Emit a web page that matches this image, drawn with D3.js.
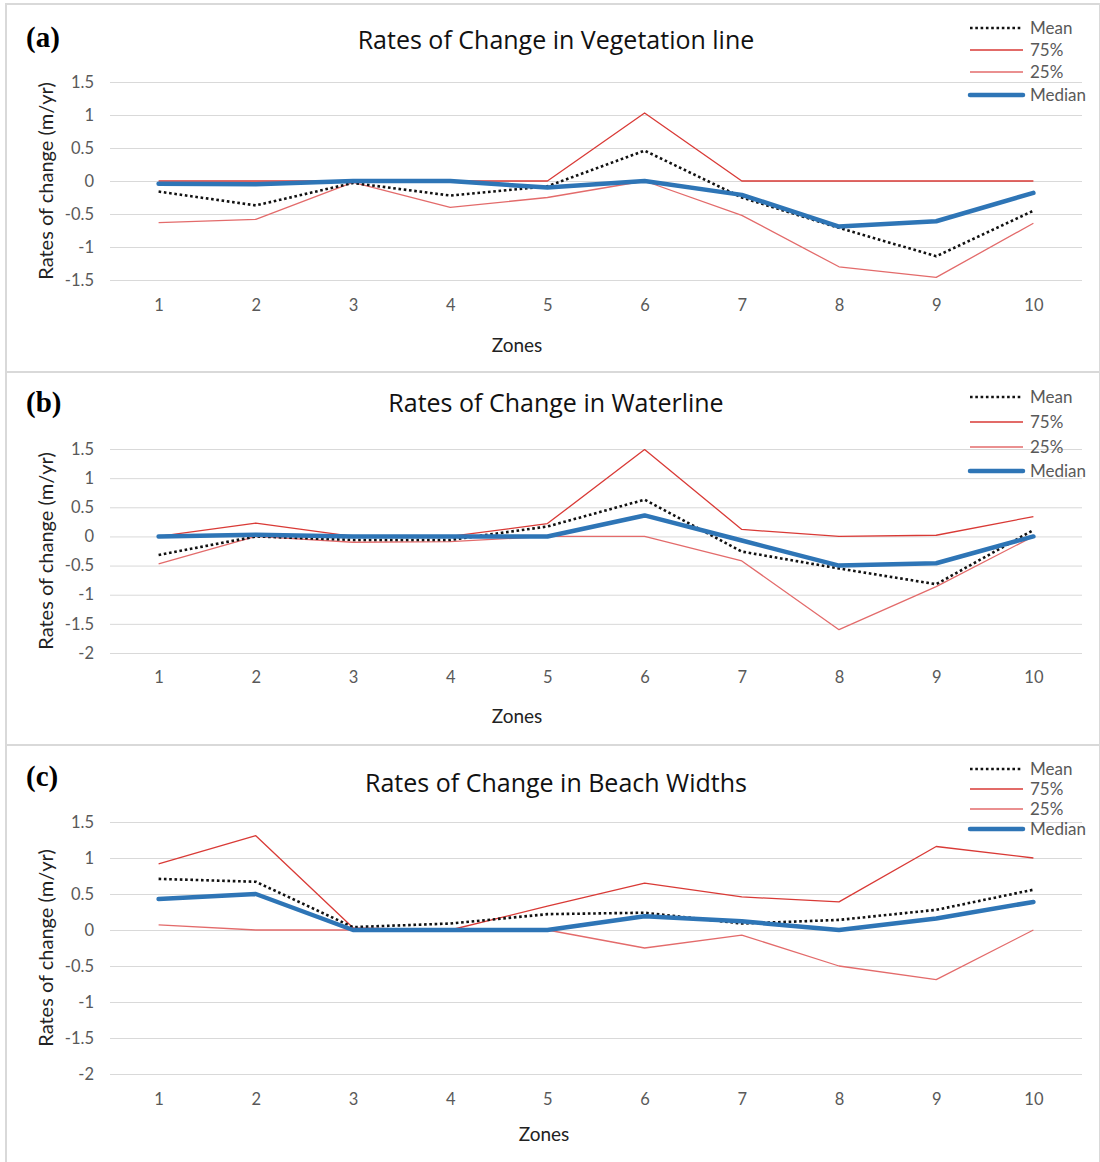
<!DOCTYPE html>
<html>
<head>
<meta charset="utf-8">
<script src="https://cdn.jsdelivr.net/npm/d3@7"></script>
<style>
  html, body { margin: 0; padding: 0; background: #fff; }
  svg { display: block; }
</style>
</head>
<body>
<svg id="chart" width="1100" height="1162"></svg>
<script>
// Zones along the coast
const zones = ["1", "2", "3", "4", "5", "6", "7", "8", "9", "10"];
const seriesNames = ["Mean", "75%", "25%", "Median"];

// Vegetation line rates (m/yr)
const vegMean   = [-0.16, -0.37, -0.03, -0.22, -0.08, 0.46, -0.25, -0.71, -1.14, -0.45];
const veg75     = [0, 0, 0, 0, 0, 1.03, 0, 0, 0, 0];
const veg25     = [-0.63, -0.58, -0.02, -0.40, -0.25, 0, -0.52, -1.30, -1.46, -0.64];
const vegMedian = [-0.04, -0.05, 0, 0, -0.10, 0, -0.21, -0.69, -0.61, -0.18];

// Waterline rates (m/yr)
const watMean   = [-0.32, 0, -0.06, -0.06, 0.17, 0.63, -0.26, -0.55, -0.82, 0.11];
const wat75     = [0, 0.23, 0, 0, 0.22, 1.49, 0.12, 0, 0.02, 0.34];
const wat25     = [-0.47, 0, -0.10, -0.09, 0, 0, -0.42, -1.60, -0.86, 0];
const watMedian = [0, 0.03, 0, 0, 0, 0.36, -0.07, -0.50, -0.46, 0];

// Beach width rates (m/yr)
const bchMean   = [0.71, 0.67, 0.04, 0.09, 0.22, 0.24, 0.09, 0.14, 0.28, 0.56];
const bch75     = [0.92, 1.31, 0.03, 0, 0.33, 0.65, 0.46, 0.39, 1.16, 1.0];
const bch25     = [0.07, 0, 0, 0, 0, -0.25, -0.07, -0.50, -0.69, 0];
const bchMedian = [0.43, 0.50, 0, 0, 0, 0.19, 0.12, 0, 0.16, 0.39];

// Axis ticks
const ticksVeg = [-1.5, -1, -0.5, 0, 0.5, 1, 1.5];
const ticksWat = [-2, -1.5, -1, -0.5, 0, 0.5, 1, 1.5];
const ticksBch = [-2, -1.5, -1, -0.5, 0, 0.5, 1, 1.5];

const panelTags = ["(a)", "(b)", "(c)"];
const panelTitles = [
  "Rates of Change in Vegetation line",
  "Rates of Change in Waterline",
  "Rates of Change in Beach Widths"
];
const yAxisTitle = "Rates of change (m/yr)";
const xAxisTitle = "Zones";

// Layout for each of the three stacked panels
const panels = [
  { tag: panelTags[0], title: panelTitles[0], ticks: ticksVeg,
    series: [vegMean, veg75, veg25, vegMedian],
    box: [6, 4, 1094, 368], top: 82, bottom: 280, titleY: 49, tagY: 47,
    tickY: 311, xTitleY: 352, xTitleX: 517, legendY: [28, 50, 72, 95] },
  { tag: panelTags[1], title: panelTitles[1], ticks: ticksWat,
    series: [watMean, wat75, wat25, watMedian],
    box: [6, 372, 1094, 373], top: 449, bottom: 653, titleY: 412, tagY: 412,
    tickY: 683, xTitleY: 723, xTitleX: 517, legendY: [397, 422, 447, 471] },
  { tag: panelTags[2], title: panelTitles[2], ticks: ticksBch,
    series: [bchMean, bch75, bch25, bchMedian],
    box: [6, 745, 1094, 430], top: 822, bottom: 1074, titleY: 792, tagY: 786,
    tickY: 1105, xTitleY: 1141, xTitleX: 544, legendY: [769, 789, 809, 829] }
];

const styles = [
  { stroke: "#111", width: 2.6, dash: "2.6 2.7", cap: "butt" },   // Mean
  { stroke: "#d93a36", width: 1.3, dash: null, cap: "butt" },     // 75%
  { stroke: "#e36b6b", width: 1.3, dash: null, cap: "butt" },     // 25%
  { stroke: "#2e75b6", width: 4.5, dash: null, cap: "round" }     // Median
];
const drawOrder = [1, 2, 0, 3];

const sansFont = "Lato, 'Open Sans', sans-serif";
const titleFont = "'Open Sans', Lato, sans-serif";
const svg = d3.select("#chart");
const plotLeft = 110, plotRight = 1082;

const x = d3.scalePoint().domain(zones).range([plotLeft, plotRight]).padding(0.5);

panels.forEach(p => {
  const g = svg.append("g");
  const [bx, by, bw, bh] = p.box;

  g.append("rect")
    .attr("x", bx).attr("y", by).attr("width", bw).attr("height", bh)
    .attr("fill", "none").attr("stroke", "#d9d9d9").attr("stroke-width", 2);

  const y = d3.scaleLinear()
    .domain([d3.min(p.ticks), d3.max(p.ticks)])
    .range([p.bottom, p.top]);

  // Horizontal gridlines and value labels
  const yAxis = d3.axisLeft(y).tickValues(p.ticks).tickSize(-(plotRight - plotLeft))
    .tickPadding(16).tickFormat(d => String(d));
  const ya = g.append("g").attr("transform", `translate(${plotLeft},0)`).call(yAxis);
  ya.select(".domain").remove();
  ya.selectAll(".tick line").attr("stroke", "#d9d9d9").attr("stroke-width", 1);
  ya.selectAll(".tick text").attr("fill", "#595959")
    .style("font-family", sansFont).style("font-size", "16.5px");

  // Zone labels
  const xAxis = d3.axisBottom(x).tickSize(0).tickPadding(0);
  const xa = g.append("g").attr("transform", `translate(0,${p.tickY})`).call(xAxis);
  xa.select(".domain").remove();
  xa.selectAll(".tick text").attr("fill", "#595959").attr("dy", 0)
    .style("font-family", sansFont).style("font-size", "16.5px");

  // Series lines
  const line = d3.line().x((d, i) => x(zones[i])).y(d => y(d));
  drawOrder.forEach(k => {
    const s = styles[k];
    g.append("path")
      .datum(p.series[k])
      .attr("d", line)
      .attr("fill", "none")
      .attr("stroke", s.stroke)
      .attr("stroke-width", s.width)
      .attr("stroke-linejoin", "round")
      .attr("stroke-linecap", s.cap)
      .attr("stroke-dasharray", s.dash);
  });

  // Panel tag
  g.append("text").attr("x", 26).attr("y", p.tagY)
    .style("font-family", "'Liberation Serif', 'Times New Roman', serif")
    .style("font-weight", "bold").style("font-size", "29px")
    .attr("fill", "#000").text(p.tag);

  // Chart title
  g.append("text").attr("x", 556).attr("y", p.titleY).attr("text-anchor", "middle")
    .style("font-family", titleFont).style("font-size", "25px")
    .attr("fill", "#111").text(p.title);

  // Axis titles
  g.append("text").attr("x", p.xTitleX).attr("y", p.xTitleY).attr("text-anchor", "middle")
    .style("font-family", sansFont).style("font-size", "19px")
    .attr("fill", "#222").text(xAxisTitle);

  g.append("text")
    .attr("transform", `translate(53,${(p.top + p.bottom) / 2}) rotate(-90)`)
    .attr("text-anchor", "middle")
    .style("font-family", sansFont).style("font-size", "20px")
    .attr("fill", "#222").text(yAxisTitle);

  // Legend
  const lg = g.append("g");
  seriesNames.forEach((name, k) => {
    const s = styles[k];
    const ly = p.legendY[k];
    lg.append("line").attr("x1", 970).attr("x2", 1023).attr("y1", ly).attr("y2", ly)
      .attr("stroke", s.stroke).attr("stroke-width", s.width)
      .attr("stroke-linecap", s.cap).attr("stroke-dasharray", s.dash);
    lg.append("text").attr("x", 1030).attr("y", ly).attr("dy", "0.36em")
      .style("font-family", sansFont).style("font-size", "17px")
      .attr("fill", "#595959").text(name);
  });
});
</script>
</body>
</html>
